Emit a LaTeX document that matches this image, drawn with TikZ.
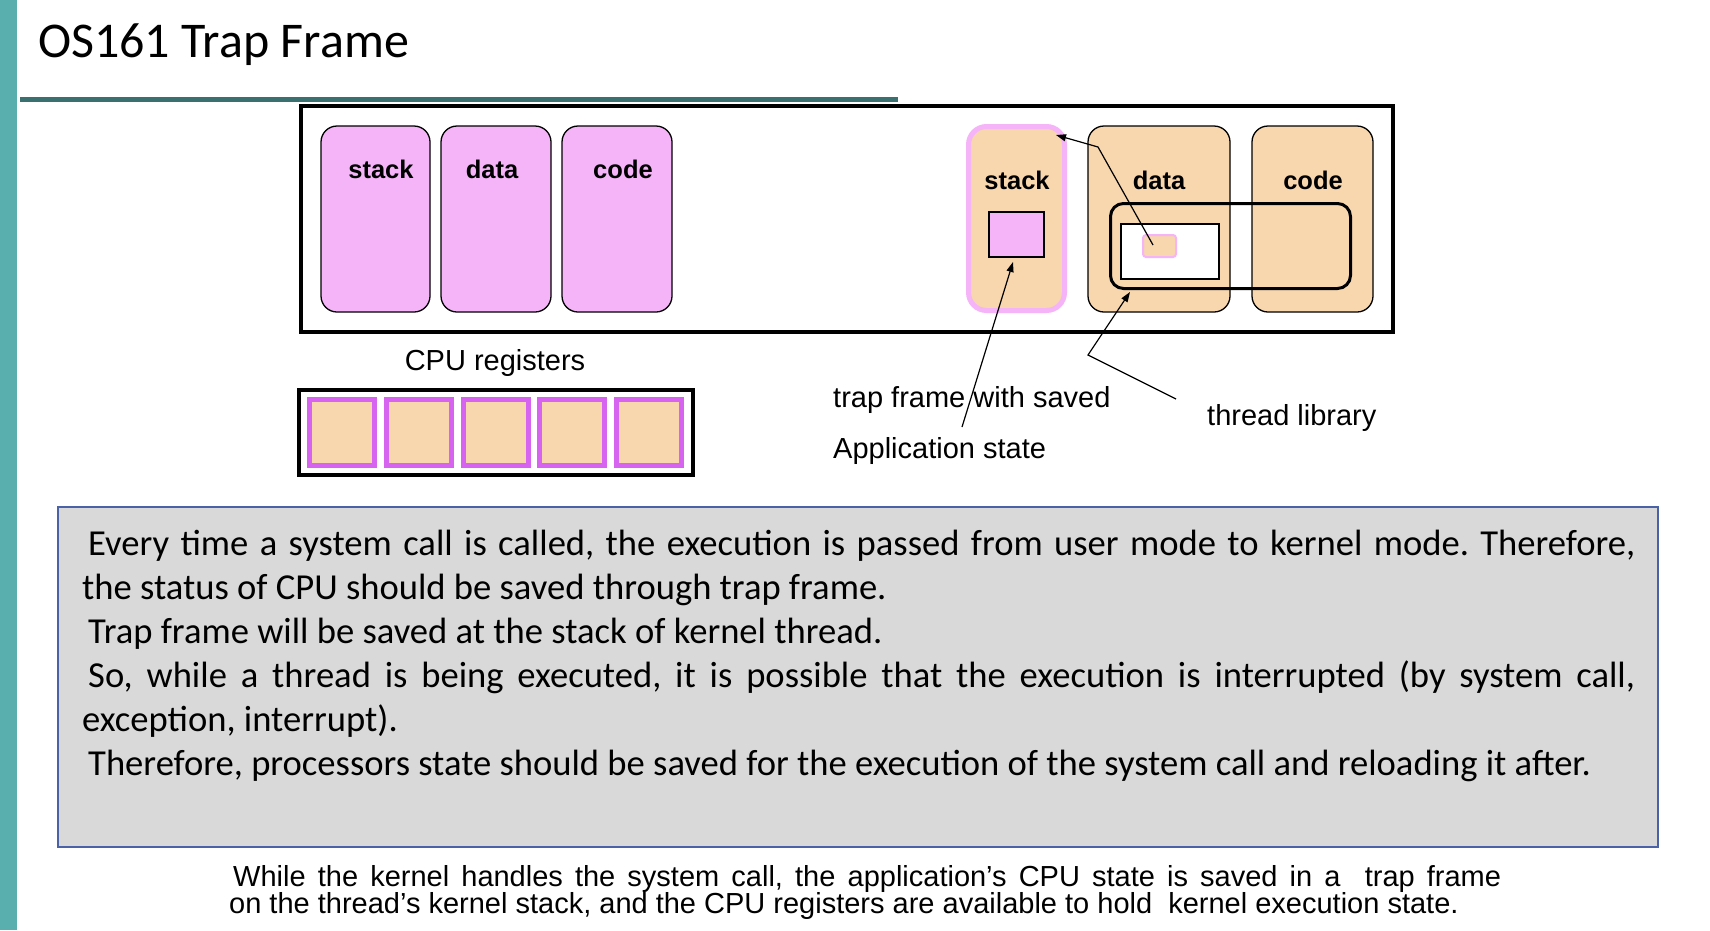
\documentclass[tikz,border=0pt]{standalone}
\usepackage{fontspec}
\setmainfont{Liberation Sans}
\newfontfamily\calib{Carlito}
\usetikzlibrary{arrows.meta}
\definecolor{pinkfill}{HTML}{F5B3F8}
\definecolor{peach}{HTML}{F8D6AE}
\definecolor{regborder}{HTML}{D664F0}
\definecolor{tealbar}{HTML}{59AFAE}
\definecolor{tealline}{HTML}{3A7070}
\definecolor{boxgray}{HTML}{D9D9D9}
\definecolor{boxblue}{HTML}{4A62A6}
\frenchspacing
\tikzset{
  seg/.style={draw=black, line width=1.3pt, rounded corners=16pt, inner sep=0pt, minimum width=#1, minimum height=186pt},
  lseg/.style={seg=#1, fill=pinkfill},
  rseg/.style={seg=#1, fill=peach},
  seglabel/.style={font=\fontsize{25.5}{30}\selectfont\bfseries, inner sep=0pt, anchor=base},
  lbl/.style={font=\fontsize{29}{34}\selectfont, inner sep=0pt},
  reg/.style={draw=regborder, line width=5pt, fill=peach, inner sep=0pt, minimum width=65pt, minimum height=66pt},
  arr/.style={draw=black, line width=1.2pt, -{Triangle[length=10pt,width=7pt]}},
  bodyln/.style={font=\calib\fontsize{36.6}{44}\selectfont, inner sep=0pt, anchor=base west},
  capln/.style={font=\fontsize{29}{26}\selectfont, inner sep=0pt, anchor=base west},
}
\begin{document}
\begin{tikzpicture}[x=1pt, y=-1pt]
\useasboundingbox (0,0) rectangle (1710,930);
\fill[white] (0,0) rectangle (1710,930);
% left teal bar and title
\fill[tealbar] (0,0) rectangle (17,930);
\node[font=\calib\fontsize{50}{58}\selectfont, inner sep=0pt, anchor=base west] (title) at (38,57.5) {OS161 Trap Frame};
\coordinate (ulA) at (20,99.5);
\coordinate (ulB) at (898,99.5);
\draw[tealline, line width=5.5pt] (ulA) -- (ulB);
% main frame
\node[draw=black, line width=4pt, minimum width=1092pt, minimum height=226pt, inner sep=0pt] (frame) at (847,218.5) {};
% left segments
\node[lseg=109pt] (lstack) at (375.5,219) {};
\node[lseg=110pt] (ldata) at (496,219) {};
\node[lseg=110pt] (lcode) at (617,219) {};
\node[seglabel] (lstackl) at (381,178) {stack};
\node[seglabel] (ldatal) at (492,178) {data};
\node[seglabel] (lcodel) at (623,178) {code};
% right segments
\node[draw=pinkfill, line width=5pt, fill=peach, rounded corners=18pt, inner sep=0pt, minimum width=96pt, minimum height=184pt] (rstack) at (1016.5,218.5) {};
\node[rseg=142pt] (rdata) at (1159,219) {};
\node[rseg=121pt] (rcode) at (1312.5,219) {};
\node[seglabel] (rstackl) at (1017,189) {stack};
\node[seglabel] (rdatal) at (1159,189) {data};
\node[seglabel] (rcodel) at (1313,189) {code};
\node[draw=black, line width=1.3pt, fill=pinkfill, inner sep=0pt, minimum width=55pt, minimum height=45pt] (psq) at (1016.5,234.5) {};
\node[draw=black, line width=3pt, rounded corners=13pt, inner sep=0pt, minimum width=240pt, minimum height=85pt] (tlib) at (1230.5,246) {};
\node[draw=black, line width=1.3pt, fill=white, inner sep=0pt, minimum width=98pt, minimum height=55pt] (wrect) at (1170,251.5) {};
\node[draw=pinkfill, line width=2pt, fill=peach, rounded corners=3pt, inner sep=0pt, minimum width=33pt, minimum height=22pt] (tiny) at (1159.5,246) {};
% arrows
\coordinate (a1s) at (1153,245);
\coordinate (a1b) at (1098,147);
\coordinate (a1t) at (1056,135);
\draw[arr] (a1s) -- (a1b) -- (a1t);
\coordinate (a2s) at (962,427);
\coordinate (a2t) at (1013,262);
\draw[arr] (a2s) -- (a2t);
\coordinate (a3s) at (1176,399);
\coordinate (a3b) at (1088,355);
\coordinate (a3t) at (1130,292);
\draw[arr] (a3s) -- (a3b) -- (a3t);
% registers
\node[lbl, anchor=base] (cpul) at (495,370) {CPU registers};
\node[draw=black, line width=4pt, minimum width=394pt, minimum height=85pt, inner sep=0pt] (regbox) at (496,432.5) {};
\foreach \i in {0,...,4} {
  \node[reg] (r\i) at ({342+76.75*\i},432.5) {};
}
% labels
\node[lbl, anchor=base west] (tfl) at (833,407) {trap frame with saved};
\node[lbl, anchor=base west] (asl) at (833,458) {Application state};
\node[lbl, anchor=base west] (tll) at (1207,425) {thread library};
% text box
\node[draw=boxblue, line width=2pt, fill=boxgray, minimum width=1600pt, minimum height=340pt, inner sep=0pt] (tbox) at (858,677) {};
\node[bodyln] (b1) at (88,555.5) {\makebox[1547pt][s]{Every time a system call is called, the execution is passed from user mode to kernel mode. Therefore,}};
\node[bodyln] (b2) at (82,599.5) {the status of CPU should be saved through trap frame.};
\node[bodyln] (b3) at (88,643.5) {Trap frame will be saved at the stack of kernel thread.};
\node[bodyln] (b4) at (88,687.5) {\makebox[1547pt][s]{So, while a thread is being executed, it is possible that the execution is interrupted (by system call,}};
\node[bodyln] (b5) at (82,731.5) {exception, interrupt).};
\node[bodyln] (b6) at (88,775) {Therefore, processors state should be saved for the execution of the system call and reloading it after.};
% caption
\node[capln] (c1) at (233,886) {\makebox[1268pt][s]{While the kernel handles the system call, the application’s CPU state is saved in a\ \ trap frame}};
\node[capln] (c2) at (229,913) {on the thread’s kernel stack, and the CPU registers are available to hold\ \ kernel execution state.};
\end{tikzpicture}
\end{document}
